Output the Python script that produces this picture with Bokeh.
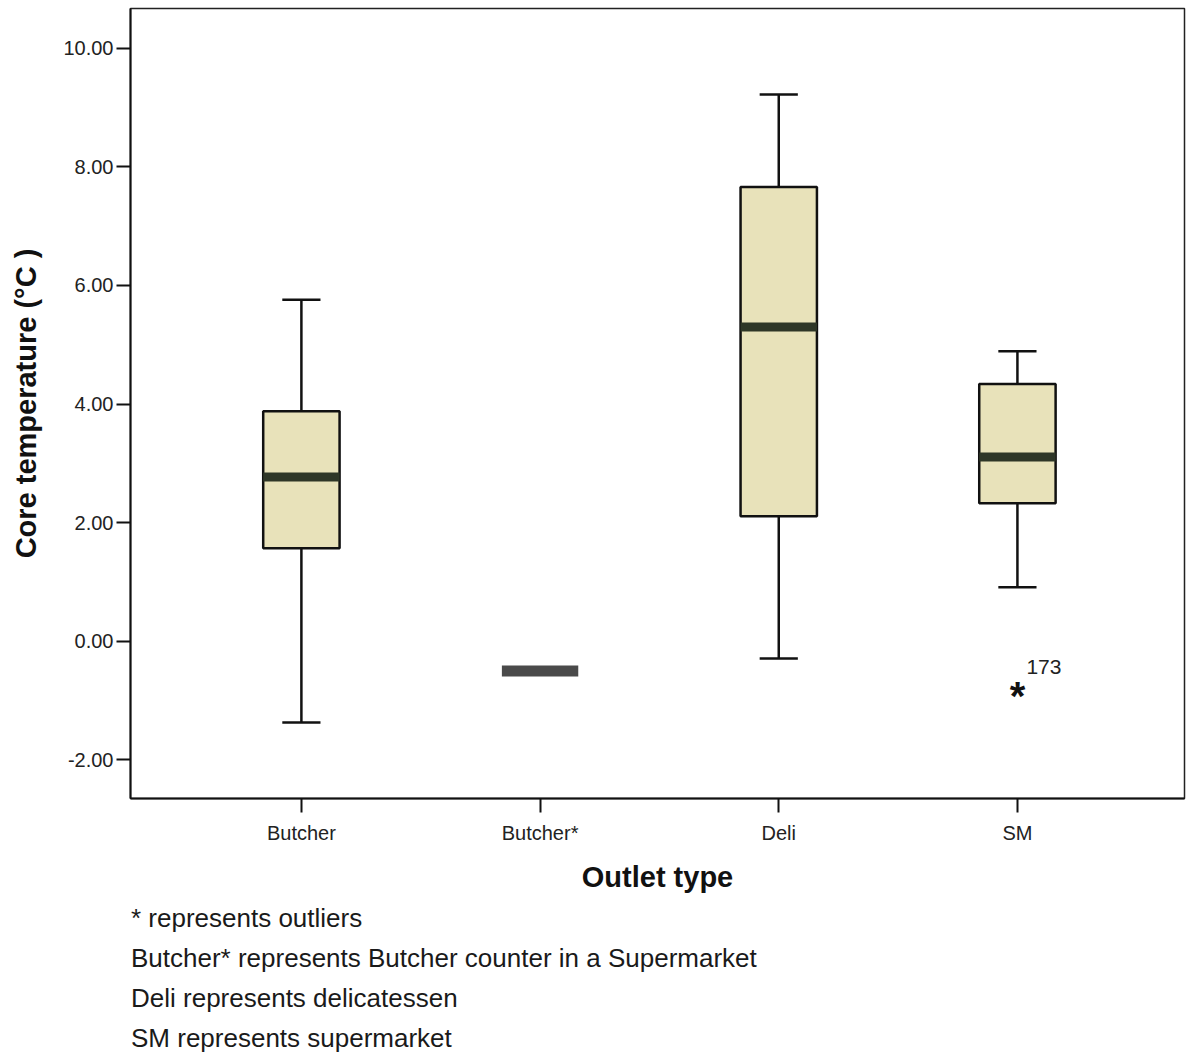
from bokeh.plotting import figure
from bokeh.layouts import column
from bokeh.models import (ColumnDataSource, FixedTicker, PrintfTickFormatter,
                          Range1d, Div)
from bokeh.core.properties import value
from bokeh.embed import file_html
from bokeh.resources import INLINE

# ---- data ----
categories = ["Butcher", "Butcher*", "Deli", "SM"]
lower_whisker = [-1.37, -0.50, -0.29, 0.91]
q1 = [1.57, -0.50, 2.11, 2.33]
median = [2.77, -0.50, 5.30, 3.11]
q3 = [3.88, -0.50, 7.66, 4.34]
upper_whisker = [5.76, -0.50, 9.22, 4.89]
outlier_category = ["SM"]
outlier_value = [-0.78]
outlier_label = ["173"]
y_ticks = [-2, 0, 2, 4, 6, 8, 10]
notes = ["* represents outliers",
         "Butcher* represents Butcher counter in a Supermarket",
         "Deli represents delicatessen",
         "SM represents supermarket"]

FONT = "Liberation Sans"
BOX_W = 0.32
CAP_W = 0.16

xs = [i + 1 for i in range(len(categories))]
pos = {c: i + 1 for i, c in enumerate(categories)}

p = figure(width=1186, height=898, output_backend="svg", toolbar_location=None,
           x_range=Range1d(0.284, 4.70), y_range=Range1d(-2.65, 10.67),
           min_border_left=130, min_border_right=2, min_border_top=8,
           min_border_bottom=100)
p.background_fill_color = "white"
p.border_fill_color = "white"
p.outline_line_color = "#222222"
p.outline_line_width = 1.5
p.xgrid.visible = False
p.ygrid.visible = False

# whiskers (only where there is spread)
wi = [i for i in range(len(categories)) if upper_whisker[i] > lower_whisker[i]]
wsrc = ColumnDataSource(dict(
    x=[xs[i] for i in wi],
    lo=[lower_whisker[i] for i in wi], q1=[q1[i] for i in wi],
    q3=[q3[i] for i in wi], hi=[upper_whisker[i] for i in wi],
    cl=[xs[i] - CAP_W / 2 for i in wi], cr=[xs[i] + CAP_W / 2 for i in wi],
    bl=[xs[i] - BOX_W / 2 for i in wi], br=[xs[i] + BOX_W / 2 for i in wi],
    med=[median[i] for i in wi]))
p.segment(x0="x", y0="lo", x1="x", y1="q1", source=wsrc, line_color="#111111", line_width=2.5)
p.segment(x0="x", y0="q3", x1="x", y1="hi", source=wsrc, line_color="#111111", line_width=2.5)
p.segment(x0="cl", y0="lo", x1="cr", y1="lo", source=wsrc, line_color="#111111", line_width=2.5)
p.segment(x0="cl", y0="hi", x1="cr", y1="hi", source=wsrc, line_color="#111111", line_width=2.5)
p.quad(left="bl", right="br", bottom="q1", top="q3", source=wsrc,
       fill_color="#e8e2ba", line_color="#111111", line_width=2.5)
p.segment(x0="bl", y0="med", x1="br", y1="med", source=wsrc, line_color="#2e3627",
          line_width=9, line_cap="butt")

# degenerate box (all values equal) drawn as a thick grey bar
di = [i for i in range(len(categories)) if upper_whisker[i] == lower_whisker[i]]
dsrc = ColumnDataSource(dict(
    bl=[xs[i] - BOX_W / 2 for i in di], br=[xs[i] + BOX_W / 2 for i in di],
    med=[median[i] for i in di]))
p.segment(x0="bl", y0="med", x1="br", y1="med", source=dsrc, line_color="#4a4a4a",
          line_width=11, line_cap="butt")

# outlier
osrc = ColumnDataSource(dict(x=[pos[c] for c in outlier_category], y=outlier_value,
                             star=["*" for _ in outlier_value], lab=outlier_label))
p.text(x="x", y="y", text="star", source=osrc, text_font=value(FONT),
       text_font_size="40px", text_font_style="bold", text_align="center",
       text_baseline="middle", y_offset=8, text_color="#111111")
p.text(x="x", y="y", text="lab", source=osrc, text_font=value(FONT),
       text_font_size="21px", text_align="left", text_baseline="middle",
       x_offset=9, y_offset=-21, text_color="#222222")

# axes
xa = p.xaxis[0]
xa.ticker = FixedTicker(ticks=xs)
xa.major_label_overrides = {x: c for x, c in zip(xs, categories)}
xa.axis_label = "Outlet type"
ya = p.yaxis[0]
ya.ticker = FixedTicker(ticks=y_ticks)
ya.formatter = PrintfTickFormatter(format="%.2f")
ya.axis_label = "Core temperature (°C )"
for ax in (xa, ya):
    ax.axis_line_width = 2
    ax.axis_line_color = "#111111"
    ax.major_tick_line_width = 2
    ax.major_tick_line_color = "#111111"
    ax.major_tick_out = 14
    ax.major_tick_in = 0
    ax.minor_tick_line_color = None
    ax.major_label_text_font = FONT
    ax.major_label_text_font_size = "20px"
    ax.major_label_text_color = "#222222"
    ax.axis_label_text_font = FONT
    ax.axis_label_text_font_size = "29px"
    ax.axis_label_text_font_style = "bold"
    ax.axis_label_text_color = "#111111"
xa.major_label_standoff = 9
xa.axis_label_standoff = 14
ya.major_label_standoff = 3
ya.axis_label_standoff = 18

notes_html = "".join(f"<div>{t}</div>" for t in notes)
div = Div(text=notes_html, width=1186, height=154, margin=(0, 0, 0, 0),
          styles={"font-family": FONT, "font-size": "26px", "line-height": "40px",
                  "color": "#1a1a1a", "padding-left": "131px"})

layout = column(p, div, spacing=0)
open("out.html", "w").write(file_html(layout, INLINE))
